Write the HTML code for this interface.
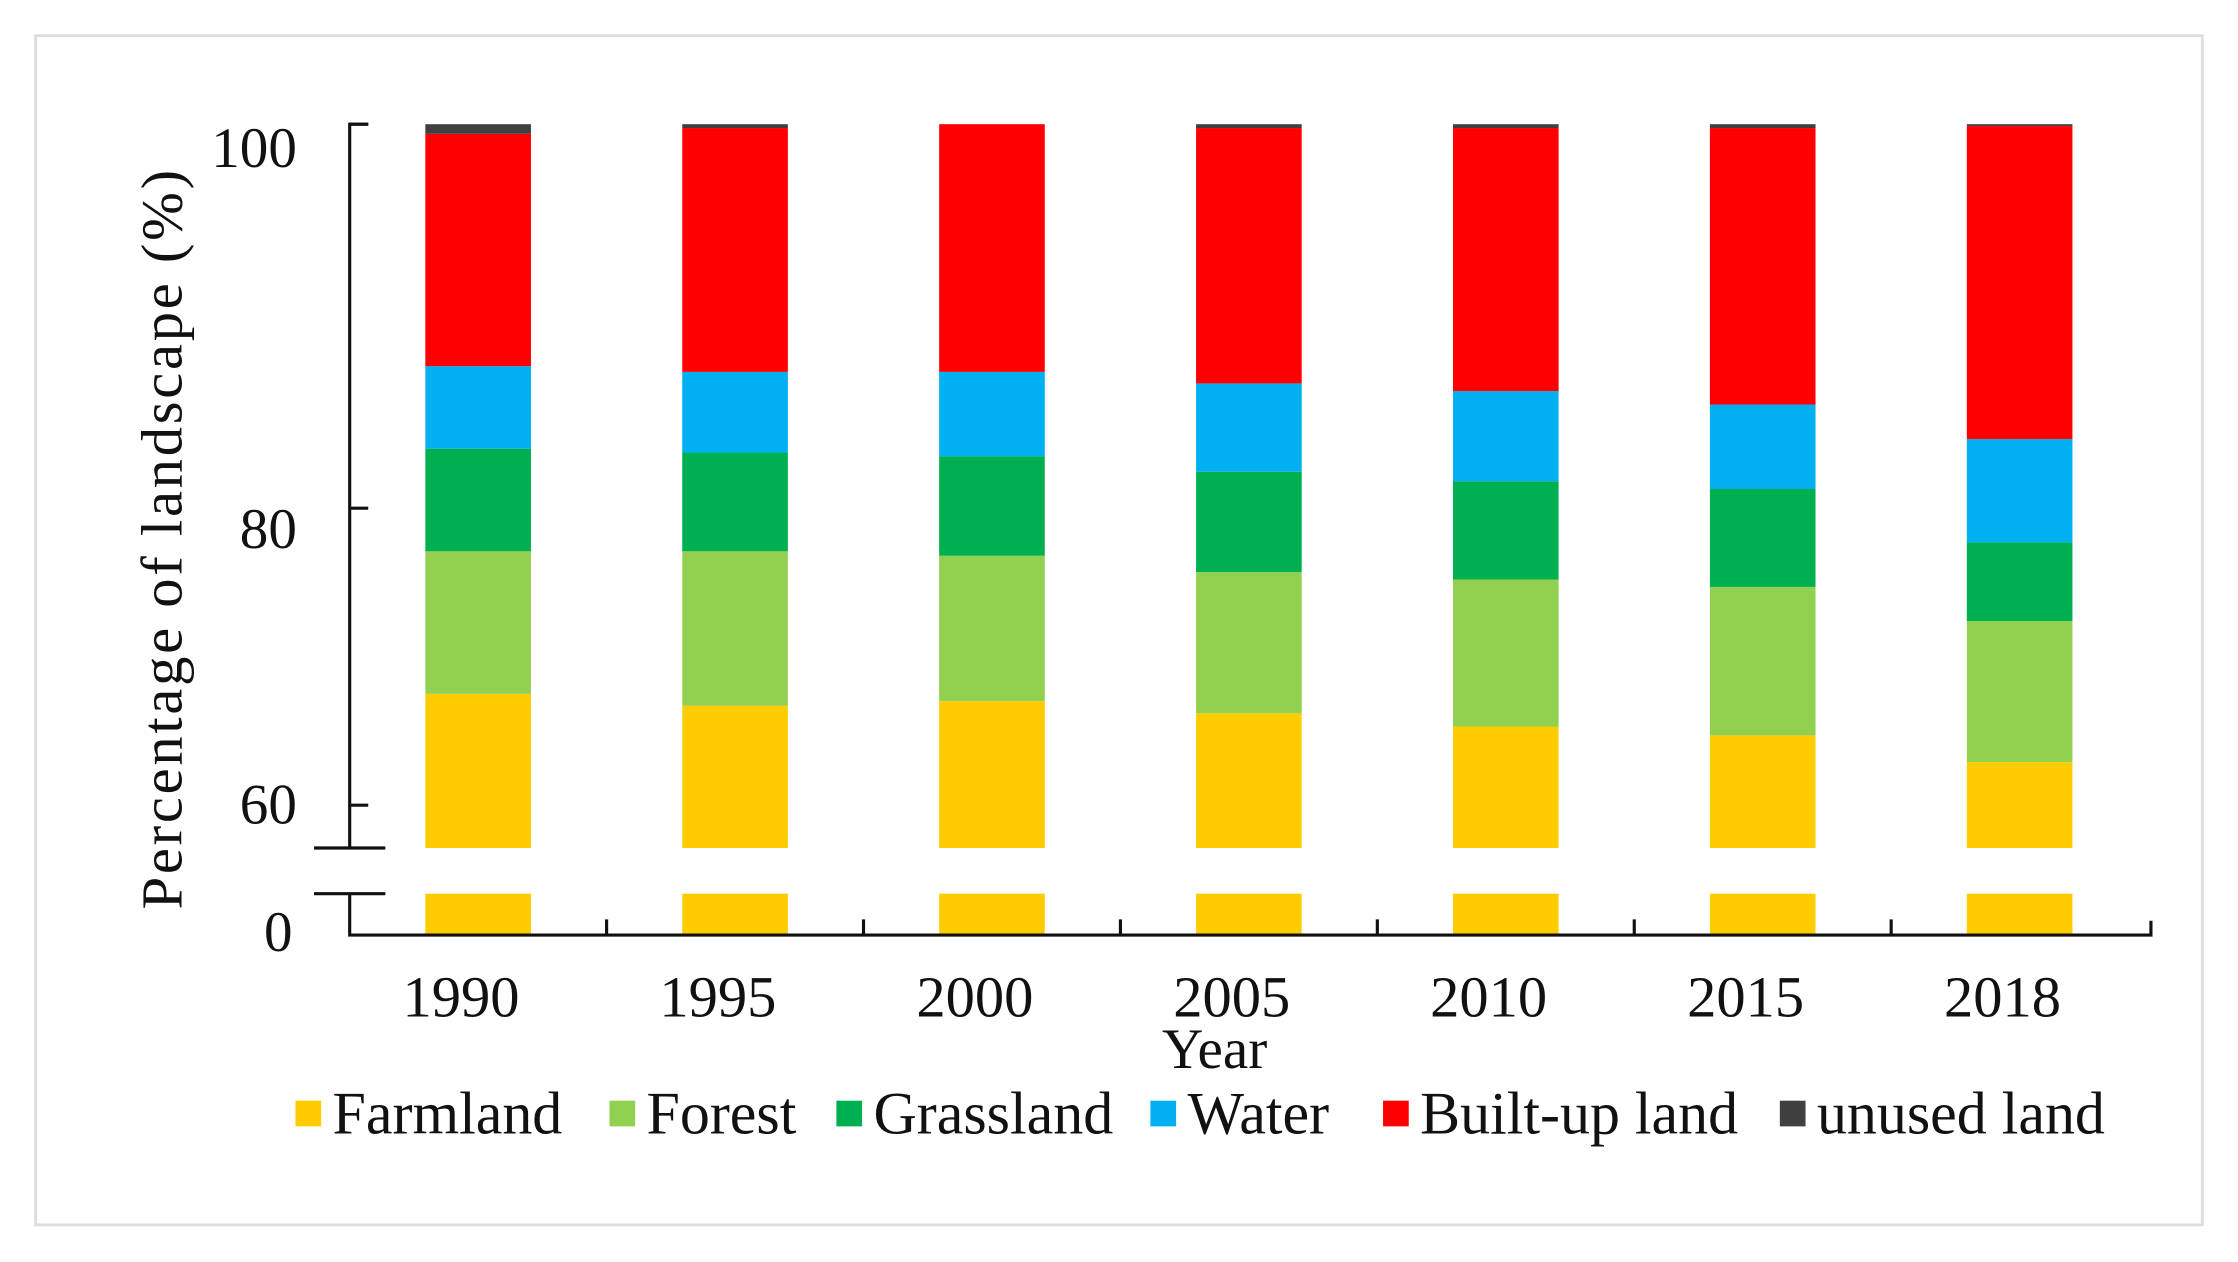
<!DOCTYPE html>
<html><head><meta charset="utf-8"><style>
html,body{margin:0;padding:0;background:#fff;}
svg{display:block;}
text{font-family:"Liberation Serif",serif;fill:#111;}
</style></head><body>
<svg id="chart" width="2238" height="1262" viewBox="0 0 1568 884" preserveAspectRatio="none" xmlns="http://www.w3.org/2000/svg">
<rect x="25" y="25" width="1518" height="833" fill="#fff" stroke="#ddd" stroke-width="2"/>
<g id="bars"></g>
<g id="axes"></g>
<text transform="translate(127,378) rotate(-90)" text-anchor="middle" font-size="41" textLength="518" lengthAdjust="spacing">Percentage  of landscape  (%)</text>
<text x="851" y="748" text-anchor="middle" font-size="40">Year</text>
<g id="legend"></g>
</svg>
<script>
const categories=["1990","1995","2000","2005","2010","2015","2018"];
const seriesNames=["Farmland","Forest","Grassland","Water","Built-up land","unused land"];
const colors=["#ffcc00","#92d050","#00b050","#00b0f0","#ff0000","#404040"];
const farmland=[67.5,66.7,67.0,66.2,65.3,64.7,62.9];
const forest=[9.6,10.4,9.8,9.5,9.9,10.0,9.5];
const grassland=[6.0,5.8,5.9,6.2,6.2,6.3,5.3];
const water=[4.3,4.2,4.4,4.6,4.7,4.4,5.9];
const builtup=[12.1,12.7,12.9,13.3,13.7,14.4,16.3];
const unused=[0.5,0.2,0,0.2,0.2,0.2,0.1];
const yTicks=[100,80,60];
const series=[farmland,forest,grassland,water,builtup,unused];
const NS="http://www.w3.org/2000/svg";
function yScale(v){return v>=80?356-(v-80)*13.45:356-(v-80)*10.4;}
const labelShift={100:30,80:28,60:13};
const yBreakTop=594, yLowTop=626, yBase=655;
function xCenter(i){return 335+i*180;}
const barW=74;
function mk(tag,attrs,parent){const e=document.createElementNS(NS,tag);for(const k in attrs)e.setAttribute(k,attrs[k]);parent.appendChild(e);return e;}
const bars=document.getElementById('bars');
categories.forEach((c,i)=>{
  let cum=0;
  series.forEach((s,j)=>{
    const v0=cum, v1=cum+s[i]; cum=v1;
    if(s[i]<=0) return;
    const yTop=yScale(v1), yBot=j===0?yBreakTop:yScale(v0);
    const r=mk('rect',{x:xCenter(i)-barW/2,y:yTop,width:barW,height:Math.max(0,yBot-yTop),fill:colors[j]},bars);
    
    
    if(j===0){
      const r2=mk('rect',{x:xCenter(i)-barW/2,y:yLowTop,width:barW,height:yBase-yLowTop,fill:colors[0]},bars);
      
      
    }
  });
});
const ax=document.getElementById('axes');
const st={stroke:'#111','stroke-width':2.2,fill:'none'};
let l=mk('path',Object.assign({d:`M258 87 H245 V${yBreakTop} M245 ${yLowTop} V${yBase} H1507 V645`},st),ax);


let b=mk('path',Object.assign({d:`M220 ${yBreakTop} H270 M220 ${yLowTop} H270`},st),ax);


yTicks.forEach(t=>{
  const y=yScale(t);
  const tk=mk('line',Object.assign({x1:245,x2:258,y1:y,y2:y},st),ax);
  
  
  const tx=mk('text',{x:208,y:y+(labelShift[t]||17),'text-anchor':'end','font-size':40},ax);
  tx.textContent=t;
  
  
});
const z=mk('text',{x:205,y:666,'text-anchor':'end','font-size':40},ax);
z.textContent='0';


categories.forEach((c,i)=>{
  if(i>0){const tk=mk('line',Object.assign({x1:xCenter(i)-90,x2:xCenter(i)-90,y1:yBase,y2:yBase-11},st),ax);
  
  }
  const tx=mk('text',{x:xCenter(i)-12,y:712,'text-anchor':'middle','font-size':41},ax);
  tx.textContent=c;
  
  
});
const lg=document.getElementById('legend');
const lx=[207,427,586,806,969,1247];
seriesNames.forEach((n,j)=>{
  const g=mk('g',{},lg);
  
  
  mk('rect',{x:lx[j],y:771,width:18,height:18,fill:colors[j]},g);
  const t=mk('text',{x:lx[j]+26,y:794,'font-size':42},g);
  t.textContent=n;
});
</script>
</body></html>
